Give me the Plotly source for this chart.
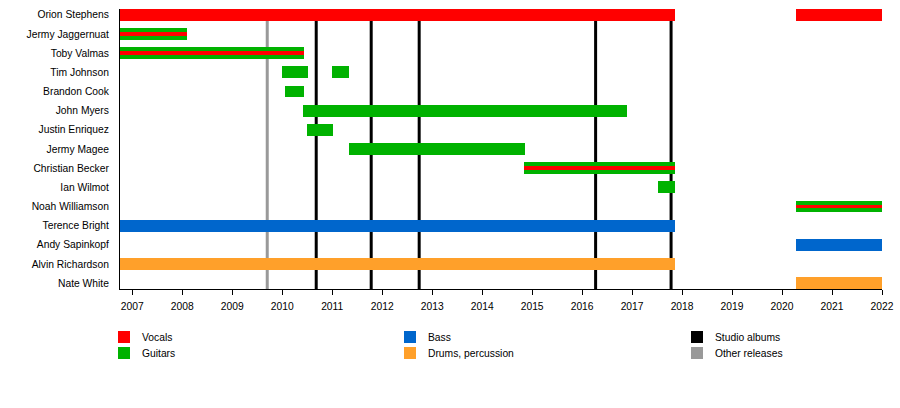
import plotly.graph_objects as go

# ---------------- data ----------------
members = [
    "Orion Stephens", "Jermy Jaggernuat", "Toby Valmas", "Tim Johnson",
    "Brandon Cook", "John Myers", "Justin Enriquez", "Jermy Magee",
    "Christian Becker", "Ian Wilmot", "Noah Williamson", "Terence Bright",
    "Andy Sapinkopf", "Alvin Richardson", "Nate White",
]

# each membership period: member, role, start, end
seg_member = [
    "Orion Stephens", "Orion Stephens",
    "Jermy Jaggernuat", "Toby Valmas",
    "Tim Johnson", "Tim Johnson",
    "Brandon Cook", "John Myers", "Justin Enriquez", "Jermy Magee",
    "Christian Becker", "Ian Wilmot", "Noah Williamson",
    "Terence Bright", "Andy Sapinkopf",
    "Alvin Richardson", "Nate White",
]
seg_role = [
    "Vocals", "Vocals",
    "Guitars+Vocals", "Guitars+Vocals",
    "Guitars", "Guitars",
    "Guitars", "Guitars", "Guitars", "Guitars",
    "Guitars+Vocals", "Guitars", "Guitars+Vocals",
    "Bass", "Bass",
    "Drums", "Drums",
]
seg_start = [
    2006.75, 2020.27,
    2006.75, 2006.75,
    2010.0, 2011.0,
    2010.05, 2010.41, 2010.49, 2011.33,
    2014.83, 2017.51, 2020.27,
    2006.75, 2020.27,
    2006.75, 2020.27,
]
seg_end = [
    2017.85, 2022.0,
    2008.09, 2010.43,
    2010.51, 2011.33,
    2010.43, 2016.9, 2011.01, 2014.85,
    2017.85, 2017.85, 2022.0,
    2017.85, 2022.0,
    2017.85, 2022.0,
]

studio_albums = [2010.68, 2011.78, 2012.74, 2016.27, 2017.78]
other_releases = [2009.7]

years = list(range(2007, 2023))

legend_labels = ["Vocals", "Guitars", "Bass", "Drums, percussion",
                 "Studio albums", "Other releases"]

# ---------------- styles ----------------
COL = {
    "Vocals": "#ff0000",
    "Guitars": "#00b200",
    "Bass": "#0066cc",
    "Drums": "#ffa02a",
    "Studio": "#000000",
    "Other": "#999999",
}
FONT = "Liberation Sans, Arial, sans-serif"
FS = 10.3

fig = go.Figure()


def add_role(role_key, color, width, roles):
    ys, bases, lens = [], [], []
    for m, r, s, e in zip(seg_member, seg_role, seg_start, seg_end):
        if r in roles:
            ys.append(m)
            bases.append(s)
            lens.append(e - s)
    fig.add_trace(go.Bar(
        y=ys, x=lens, base=bases, orientation="h", width=width,
        marker=dict(color=color, line=dict(width=0)),
        name=role_key, showlegend=False, hoverinfo="skip",
    ))


add_role("Guitars", COL["Guitars"], 0.62, ("Guitars", "Guitars+Vocals"))
add_role("Vocals", COL["Vocals"], 0.62, ("Vocals",))
add_role("Vocals (stripe)", COL["Vocals"], 0.2, ("Guitars+Vocals",))
add_role("Bass", COL["Bass"], 0.62, ("Bass",))
add_role("Drums", COL["Drums"], 0.62, ("Drums",))

shapes = []
for x in other_releases:
    shapes.append(dict(type="line", xref="x", yref="paper", x0=x, x1=x,
                       y0=0, y1=1, layer="below",
                       line=dict(color=COL["Other"], width=3)))
for x in studio_albums:
    shapes.append(dict(type="line", xref="x", yref="paper", x0=x, x1=x,
                       y0=0, y1=1, layer="below",
                       line=dict(color=COL["Studio"], width=3)))

# ---------------- legend (manual, 3 columns) ----------------
L, T, PW, PH = 120, 9, 762, 280
legend_colors = [COL["Vocals"], COL["Guitars"], COL["Bass"], COL["Drums"],
                 COL["Studio"], COL["Other"]]
legend_px = [(118, 331), (118, 347), (404, 331), (404, 347), (691, 331), (691, 347)]


def px2paper(px, py):
    return (px - L) / PW, (T + PH - py) / PH


annotations = []
for lab, col, (px, py) in zip(legend_labels, legend_colors, legend_px):
    x0, y0 = px2paper(px, py)
    x1, y1 = px2paper(px + 12, py + 12)
    shapes.append(dict(type="rect", xref="paper", yref="paper",
                       x0=x0, x1=x1, y0=y1, y1=y0,
                       fillcolor=col, line=dict(width=0)))
    tx, ty = px2paper(px + 22, py + 6.5)
    annotations.append(dict(x=tx, y=ty, xref="paper", yref="paper",
                            text=lab, showarrow=False, xanchor="left",
                            yanchor="middle",
                            font=dict(size=FS, color="#000", family=FONT)))

fig.update_layout(
    width=900, height=408,
    margin=dict(l=L, r=900 - L - PW, t=T, b=408 - T - PH, pad=0),
    paper_bgcolor="white", plot_bgcolor="white",
    barmode="overlay", bargap=0,
    shapes=shapes, annotations=annotations,
    font=dict(family=FONT, size=FS, color="#000"),
    xaxis=dict(
        range=[2006.754, 2022.0], tickvals=years,
        ticktext=[str(y) for y in years],
        showgrid=False, zeroline=False, showline=True,
        linecolor="#000", linewidth=1, ticks="outside", ticklen=5,
        tickcolor="#000", tickfont=dict(size=FS, family=FONT, color="#000"),
        ticklabelstandoff=3, automargin=False,
    ),
    yaxis=dict(
        categoryorder="array", categoryarray=members,
        range=[14.3, -0.3], showgrid=False, zeroline=False,
        showline=True, linecolor="#000", linewidth=1, ticks="",
        ticklabelstandoff=8, automargin=False,
        tickfont=dict(size=FS, family=FONT, color="#000"),
    ),
)

fig.write_html(
    "out.html",
    config={"displayModeBar": False},
    post_script="document.body.style.margin='0px';document.body.style.padding='0px';",
)
